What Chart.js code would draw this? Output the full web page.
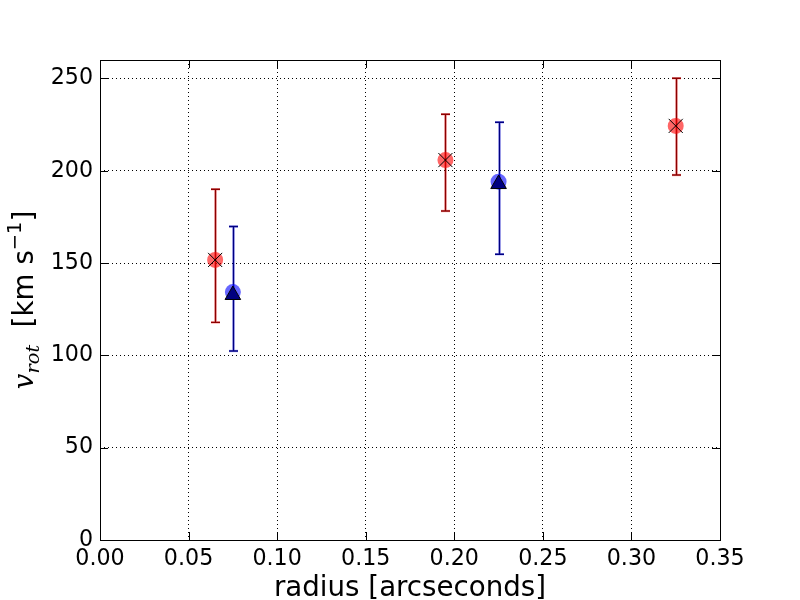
<!DOCTYPE html>
<html>
<head>
<meta charset="utf-8">
<script src="https://cdn.jsdelivr.net/npm/chart.js@4/dist/chart.umd.min.js"></script>
<style>
html,body{margin:0;padding:0;background:#fff;}
canvas{display:block;}
</style>
</head>
<body>
<canvas id="c" width="800" height="600"></canvas>
<script>
// ---- data ----
const redRadius = [0.065, 0.195, 0.325];
const redVrot   = [151.7, 205.8, 224.3];
const redLow    = [117.9, 178.2, 197.7];
const redHigh   = [190.0, 230.6, 250.1];

const blueRadius = [0.075, 0.225];
const blueVrot   = [134.3, 194.1];
const blueLow    = [102.4, 154.8];
const blueHigh   = [169.8, 226.3];

const triRadius = [0.075, 0.225];
const triVrot   = [132.7, 192.8];

const xTicks = [0.00, 0.05, 0.10, 0.15, 0.20, 0.25, 0.30, 0.35];
const yTicks = [0, 50, 100, 150, 200, 250];

const toPts = (xs, ys) => xs.map((x, i) => ({x: x, y: ys[i]}));

const errorBars = {
  id: 'errorBars',
  beforeDatasetsDraw(chart) {
    const ctx = chart.ctx, xs = chart.scales.x, ys = chart.scales.y;
    function bars(xv, lo, hi, under, over, cap) {
      xv.forEach((x, i) => {
        const px = Math.round(xs.getPixelForValue(x)) + 0.5;
        const p1 = ys.getPixelForValue(lo[i]), p2 = ys.getPixelForValue(hi[i]);
        [[under, 2.6], [over, 1.4]].forEach(([col, w]) => {
          ctx.strokeStyle = col; ctx.lineWidth = w;
          ctx.beginPath();
          ctx.moveTo(px, p1); ctx.lineTo(px, p2);
          ctx.moveTo(px - cap, p1); ctx.lineTo(px + cap, p1);
          ctx.moveTo(px - cap, p2); ctx.lineTo(px + cap, p2);
          ctx.stroke();
        });
      });
    }
    ctx.save();
    ctx.lineCap = 'butt';
    bars(redRadius, redLow, redHigh, 'rgba(255,0,0,0.3)', '#8b0000', 4.5);
    bars(blueRadius, blueLow, blueHigh, 'rgba(0,0,255,0.3)', '#000080', 4.5);
    ctx.restore();
  }
};

const frame = {
  id: 'frame',
  afterDraw(chart) {
    const ctx = chart.ctx, a = chart.chartArea, xs = chart.scales.x, ys = chart.scales.y;
    ctx.save();
    ctx.strokeStyle = '#000'; ctx.lineWidth = 1;
    ctx.strokeRect(Math.round(a.left) + 0.5, Math.round(a.top) + 0.5,
                   Math.round(a.right - a.left), Math.round(a.bottom - a.top));
    ctx.beginPath();
    const L = 8;
    xTicks.forEach(v => {
      const px = Math.round(xs.getPixelForValue(v)) + 0.5;
      ctx.moveTo(px, a.bottom); ctx.lineTo(px, a.bottom - L);
      ctx.moveTo(px, a.top); ctx.lineTo(px, a.top + L);
    });
    yTicks.forEach(v => {
      const py = Math.round(ys.getPixelForValue(v)) + 0.5;
      ctx.moveTo(a.left, py); ctx.lineTo(a.left + L, py);
      ctx.moveTo(a.right, py); ctx.lineTo(a.right - L, py);
    });
    ctx.stroke();

    // y axis label: v_rot [km s^-1]
    const big = 27.7, small = 19.4;
    const parts = [
      {t: 'v', f: 'italic ' + big + 'px "DejaVu Serif"', dy: 0},
      {t: 'rot', f: 'italic ' + small + 'px "DejaVu Serif"', dy: 6},
      {t: '  [km s', f: big + 'px "DejaVu Sans"', dy: 0},
      {t: '\u22121', f: small + 'px "DejaVu Sans"', dy: -12},
      {t: ']', f: big + 'px "DejaVu Sans"', dy: 0}
    ];
    let W = 0;
    parts.forEach(p => { ctx.font = p.f; p.w = ctx.measureText(p.t).width; W += p.w; });
    ctx.translate(33, (a.top + a.bottom) / 2);
    ctx.rotate(-Math.PI / 2);
    ctx.fillStyle = '#000';
    ctx.textBaseline = 'alphabetic';
    ctx.textAlign = 'left';
    let x = -W / 2;
    parts.forEach(p => { ctx.font = p.f; ctx.fillText(p.t, x, p.dy); x += p.w; });
    ctx.restore();
  }
};

new Chart(document.getElementById('c'), {
  type: 'scatter',
  data: {
    datasets: [
      {data: toPts(redRadius, redVrot), pointStyle: 'circle', pointRadius: 8,
       backgroundColor: 'rgba(255,0,0,0.6)', borderColor: 'rgba(255,0,0,0.6)', borderWidth: 0, order: 4},
      {data: toPts(redRadius, redVrot), pointStyle: 'crossRot', pointRadius: 10,
       backgroundColor: '#000', borderColor: '#000', borderWidth: 1, order: 3},
      {data: toPts(blueRadius, blueVrot), pointStyle: 'circle', pointRadius: 8,
       backgroundColor: 'rgba(0,0,255,0.6)', borderColor: 'rgba(0,0,255,0.6)', borderWidth: 0, order: 2},
      {data: toPts(triRadius, triVrot), pointStyle: 'triangle', pointRadius: 9,
       backgroundColor: '#000080', borderColor: '#000', borderWidth: 1, order: 1}
    ]
  },
  options: {
    responsive: false,
    animation: false,
    events: [],
    layout: {padding: {top: 60, right: 80, left: 0, bottom: 0}},
    plugins: {legend: {display: false}, tooltip: {enabled: false}},
    scales: {
      x: {
        type: 'linear', min: 0, max: 0.35,
        afterFit: s => { s.height = 60; },
        afterBuildTicks: s => { s.ticks = xTicks.map(v => ({value: v})); },
        ticks: {
          callback: v => Number(v).toFixed(2),
          color: '#000', padding: 6, maxRotation: 0, autoSkip: false,
          font: {family: 'DejaVu Sans', size: 22.2}
        },
        grid: {color: '#000', lineWidth: 1, drawTicks: false},
        border: {display: false, dash: [1, 3]},
        title: {display: true, text: 'radius [arcseconds]', color: '#000',
                font: {family: 'DejaVu Sans', size: 27.7, lineHeight: 0.8},
                padding: {top: 0, bottom: 0}}
      },
      y: {
        type: 'linear', min: 0, max: 260,
        afterFit: s => { s.width = 100; },
        afterBuildTicks: s => { s.ticks = yTicks.map(v => ({value: v})); },
        ticks: {
          color: '#000', padding: 7, autoSkip: false,
          font: {family: 'DejaVu Sans', size: 22.2}
        },
        grid: {color: '#000', lineWidth: 1, drawTicks: false},
        border: {display: false, dash: [1, 3]}
      }
    }
  },
  plugins: [errorBars, frame]
});
</script>
</body>
</html>
